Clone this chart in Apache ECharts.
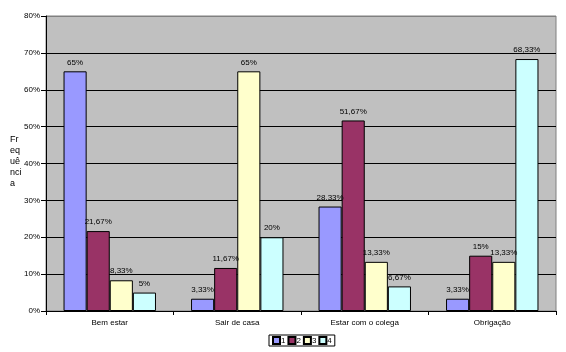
<!DOCTYPE html>
<html>
<head>
<meta charset="utf-8">
<script src="https://cdn.jsdelivr.net/npm/echarts@6/dist/echarts.min.js"></script>
<style>html,body{margin:0;padding:0;background:#fff}#c{width:566px;height:352px}</style>
</head>
<body>
<div id="c"></div>
<script>
const categories = ['Bem estar', 'Sair de casa', 'Estar com o colega', 'Obrigação'];
const seriesNames = ['1', '2', '3', '4'];
const s1 = [65, 3.33, 28.33, 3.33];
const s2 = [21.67, 11.67, 51.67, 15];
const s3 = [8.33, 65, 13.33, 13.33];
const s4 = [5, 20, 6.67, 68.33];
const colors = ['#9999ff', '#993366', '#ffffcc', '#ccffff'];
const yTitle = 'Fr\neq\nuê\nnci\na';

const font = 'Liberation Sans, Arial, sans-serif';
const fmt = v => String(v).replace('.', ',') + '%';
const allData = [s1, s2, s3, s4];

const chart = echarts.init(document.getElementById('c'));
chart.setOption({
  animation: false,
  textStyle: {fontFamily: font},
  grid: {left: 46, right: 10, top: 16, bottom: 41, show: true, backgroundColor: '#c0c0c0', borderColor: '#808080', borderWidth: 1},
  xAxis: {
    type: 'category', data: categories,
    axisLine: {lineStyle: {color: '#000'}},
    axisTick: {show: true, length: 4, lineStyle: {color: '#000'}},
    axisLabel: {color: '#000', fontSize: 8, margin: 8}
  },
  yAxis: {
    type: 'value', min: 0, max: 80, interval: 10,
    axisLine: {show: true, lineStyle: {color: '#000'}},
    axisTick: {show: true, length: 5, lineStyle: {color: '#000'}},
    axisLabel: {color: '#000', fontSize: 8, margin: 6, formatter: v => v + '%'},
    splitLine: {show: true, lineStyle: {color: ['#000','#000','#000','#000','#000','#000','#000','#000','#808080'], width: 1}}
  },
  legend: {
    data: seriesNames, top: 335, left: 269,
    itemWidth: 7, itemHeight: 7, itemGap: 2,
    borderColor: '#000', borderWidth: 1, padding: [1, 3],
    backgroundColor: '#fff',
    textStyle: {fontSize: 8, color: '#000', padding: [0, 0, 0, -4]},
    icon: 'rect'
  },
  graphic: [{type: 'text', left: 10, top: 134, style: {text: yTitle, fontSize: 9, lineHeight: 11, fill: '#000', fontFamily: font}}],
  series: allData.map((d, i) => ({
    name: seriesNames[i], type: 'bar', data: d,
    barGap: '0%', barCategoryGap: '27.5%',
    itemStyle: {color: colors[i], borderColor: '#000', borderWidth: 1},
    label: {show: true, position: 'top', distance: 5, fontSize: 8, color: '#000', formatter: p => fmt(p.value)}
  }))
});
</script>
</body>
</html>
